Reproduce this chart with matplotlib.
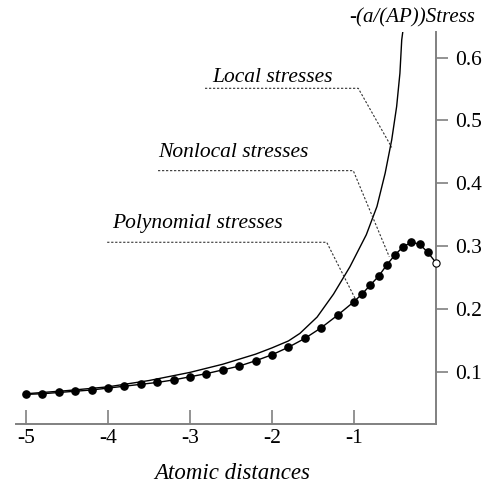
import matplotlib
matplotlib.use("Agg")
import matplotlib.pyplot as plt

plt.rcParams['font.family'] = ['Liberation Serif', 'DejaVu Serif']

# Nonlocal / polynomial stresses (dots)
dot_x = [-5.0, -4.8, -4.6, -4.4, -4.2, -4.0, -3.8, -3.6, -3.4, -3.2, -3.0, -2.8, -2.6, -2.4,
         -2.2, -2.0, -1.8, -1.6, -1.4, -1.2, -1.0, -0.9, -0.8, -0.7, -0.6, -0.5, -0.4, -0.3,
         -0.2, -0.1]
dot_y = [0.064, 0.065, 0.067, 0.069, 0.071, 0.074, 0.077, 0.080, 0.083, 0.087, 0.092, 0.097,
         0.103, 0.109, 0.1175, 0.127, 0.139, 0.153, 0.170, 0.190, 0.2115, 0.224, 0.238, 0.252,
         0.270, 0.286, 0.299, 0.306, 0.303, 0.290]
end_x = [0.0]
end_y = [0.2735]

# Local stresses curve
local_x = [-5.0, -4.5, -4.0, -3.5, -3.0, -2.6, -2.2, -2.0, -1.8, -1.66, -1.45, -1.25, -1.05,
           -0.85, -0.72, -0.62, -0.54, -0.48, -0.44, -0.418, -0.405]
local_y = [0.065, 0.070, 0.076, 0.086, 0.099, 0.112, 0.128, 0.138, 0.149, 0.161, 0.187,
           0.2235, 0.267, 0.318, 0.363, 0.416, 0.469, 0.522, 0.575, 0.628, 0.641]

x_ticks = [-5, -4, -3, -2, -1]
x_ticklabels = ['-5', '-4', '-3', '-2', '-1']
y_ticks = [0.1, 0.2, 0.3, 0.4, 0.5, 0.6]
y_ticklabels = ['0.1', '0.2', '0.3', '0.4', '0.5', '0.6']

labels = ['Local stresses', 'Nonlocal stresses', 'Polynomial stresses']
label_pos = [(-1.994, 0.561), (-2.476, 0.4416), (-2.912, 0.328)]
leaders = [
    ([-2.817, -0.948, -0.540], [0.551, 0.551, 0.457]),
    ([-3.39, -1.009, -0.570], [0.420, 0.420, 0.283]),
    ([-4.01, -1.333, -0.988], [0.306, 0.306, 0.217]),
]

fig = plt.figure(figsize=(5.01, 4.91), dpi=100)
ax = fig.add_axes([16 / 501, 1 - 423.7 / 491, (436 - 16) / 501, (423.7 - 32) / 491])
ax.set_xlim(-5.122, 0.0)
ax.set_ylim(0.01734, 0.6406)

spine_color = '#808080'
for s in ['top', 'left']:
    ax.spines[s].set_visible(False)
for s in ['bottom', 'right']:
    ax.spines[s].set_color(spine_color)
    ax.spines[s].set_linewidth(1.4)

ax.plot(local_x, local_y, color='black', lw=1.0)
ax.plot(dot_x + end_x, dot_y + end_y, color='black', lw=1.0, zorder=3)
ax.plot(dot_x, dot_y, 'o', color='black', ms=5.2, zorder=4)
ax.plot(end_x, end_y, 'o', mfc='white', mec='black', ms=5.2, mew=0.8, zorder=5, clip_on=False)

for (px, py), txt in zip(label_pos, labels):
    ax.text(px, py, txt, ha='center', va='baseline', fontsize=15.5, style='italic')
for tx, ty in leaders:
    ax.plot(tx, ty, color='#333333', lw=0.8, ls=(0, (2, 1.6)), zorder=2)

ax.set_xticks(x_ticks)
ax.set_xticklabels(x_ticklabels)
ax.set_yticks(y_ticks)
ax.set_yticklabels(y_ticklabels)
ax.yaxis.tick_right()
ax.tick_params(axis='x', direction='in', length=10, width=1.2, color=spine_color,
               labelsize=15.5, pad=4)
ax.tick_params(axis='y', direction='out', length=8.5, width=1.2, color=spine_color,
               labelsize=15.5, pad=5, right=True, left=False)

ax.text(-0.287, 0.655, '-(a/(AP))Stress', ha='center', va='baseline', fontsize=15,
        style='italic', clip_on=False)
ax.text(-2.49, -0.0706, 'Atomic distances', ha='center', va='baseline', fontsize=16.5,
        style='italic', clip_on=False)

fig.savefig('out.png', dpi=100)
